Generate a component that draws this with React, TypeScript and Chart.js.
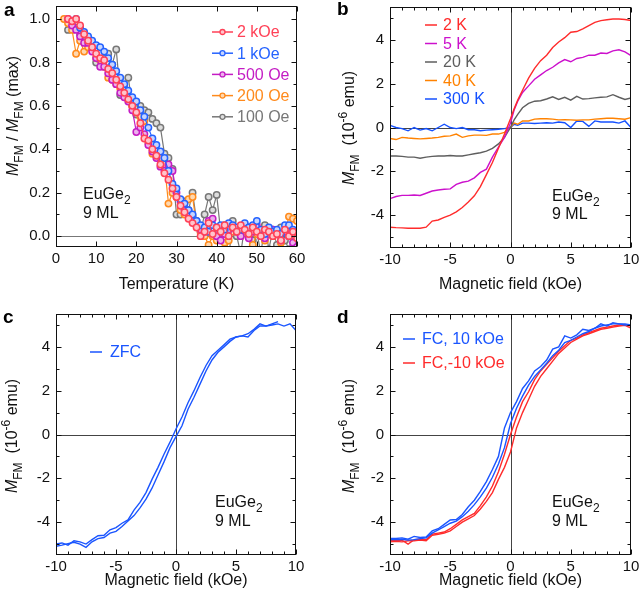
import React, { useEffect, useRef } from "react";
import { Chart, registerables } from "chart.js";
Chart.register(...registerables);

const FONT = "'Liberation Sans', Arial, Helvetica, sans-serif";

// ---------------- Panel a : M_FM / M_FM(max) vs temperature ----------------
const tempK = [2, 3, 4, 5, 6, 7, 8, 9, 10, 11, 12, 13, 14, 15, 16, 17, 18, 19, 20, 21, 22, 23, 24, 25, 26, 27, 28, 29, 30, 31, 32, 33, 34, 35, 36, 37, 38, 39, 40, 41, 42, 43, 44, 45, 46, 47, 48, 49, 50, 51, 52, 53, 54, 55, 56, 57, 58, 59, 60];
const m2kOe = [null, 1.0, 0.99, 1.0, 0.97, 0.93, 0.9, 0.87, 0.84, 0.82, 0.81, 0.77, 0.75, 0.72, 0.69, 0.66, 0.63, 0.6, 0.57, 0.52, 0.45, 0.44, 0.4, 0.37, 0.33, 0.29, 0.26, 0.22, 0.18, 0.14, 0.11, 0.08, 0.06, 0.04, 0.0, 0.02, 0.06, 0.01, 0.04, 0.02, 0.05, 0.0, 0.04, 0.02, 0.05, 0.03, 0.01, 0.04, 0.02, 0.0, 0.03, 0.02, 0.0, 0.01, -0.02, 0.03, 0.0, 0.02, -0.01];
const m1kOe = [null, null, null, 1.0, 0.96, 0.94, 0.92, 0.9, 0.88, 0.87, 0.85, 0.82, 0.79, 0.76, 0.73, 0.7, 0.67, 0.64, 0.62, 0.58, 0.55, 0.5, 0.45, 0.42, 0.39, 0.36, 0.3, 0.24, 0.22, 0.17, 0.15, 0.12, 0.1, 0.07, 0.05, 0.04, 0.02, 0.05, 0.04, 0.05, 0.03, 0.06, 0.05, 0.04, 0.03, 0.06, 0.04, 0.05, 0.07, 0.03, 0.01, 0.04, 0.02, 0.03, 0.01, 0.05, 0.05, 0.03, 0.02];
const m500Oe = [null, 1.0, 0.97, 0.95, 0.92, 0.89, 0.89, 0.85, 0.82, 0.78, 0.78, 0.75, 0.72, 0.7, 0.66, 0.64, 0.62, 0.58, 0.48, 0.5, 0.47, 0.42, 0.39, 0.36, 0.32, 0.3, 0.33, 0.3, 0.2, 0.16, 0.12, 0.1, 0.07, 0.05, 0.03, 0.02, 0.07, 0.08, 0.0, -0.02, 0.01, 0.03, 0.04, 0.02, 0.0, 0.03, -0.01, 0.02, 0.05, 0.0, -0.01, 0.02, 0.03, 0.01, -0.02, 0.02, 0.0, -0.03, -0.05];
const m200Oe = [1.0, 0.98, 0.95, 0.84, 0.9, 0.85, 0.87, 0.86, 0.82, 0.81, 0.78, 0.73, 0.72, 0.7, 0.68, 0.66, 0.64, 0.6, 0.57, 0.55, 0.53, 0.43, 0.38, 0.37, 0.36, 0.33, 0.15, 0.2, 0.18, 0.12, 0.1, 0.17, 0.18, 0.05, 0.02, 0.0, -0.04, 0.0, -0.02, 0.03, -0.03, -0.02, 0.02, 0.03, 0.0, 0.02, 0.04, -0.04, 0.01, 0.03, -0.02, 0.01, 0.0, 0.02, -0.03, 0.02, 0.09, 0.08, 0.07];
const m100Oe = [null, 0.95, 0.97, 0.96, 0.93, 0.9, 0.88, 0.87, 0.8, 0.81, 0.82, 0.84, 0.79, 0.86, 0.65, 0.68, 0.73, 0.6, 0.56, 0.6, 0.58, 0.57, 0.54, 0.52, 0.5, 0.38, 0.36, 0.31, 0.1, 0.1, 0.16, 0.12, 0.2, 0.07, 0.02, 0.1, 0.18, 0.12, 0.19, 0.02, 0.05, -0.1, 0.07, 0.0, -0.08, 0.05, 0.03, -0.02, 0.02, -0.08, 0.05, -0.06, 0.03, -0.04, 0.04, -0.02, -0.06, 0.0, -0.04];
const aSeriesLabels = ["2 kOe", "1 kOe", "500 Oe", "200 Oe", "100 Oe"];
const aXTicks = [0, 10, 20, 30, 40, 50, 60];
const aYTicks = [0.0, 0.2, 0.4, 0.6, 0.8, 1.0];

// ---------------- Panel b : M_FM vs field at several temperatures ----------------
const bField = [-10, -9.5, -9, -8.5, -8, -7.5, -7, -6.5, -6, -5.5, -5, -4.5, -4, -3.5, -3, -2.5, -2, -1.5, -1, -0.5, 0, 0.3, 0.6, 1, 1.5, 2, 2.5, 3, 3.5, 4, 4.5, 5, 5.5, 6, 6.5, 7, 7.5, 8, 8.5, 9, 9.5, 10];
const b2K = [-4.55, -4.57, -4.58, -4.6, -4.6, -4.6, -4.55, -4.27, -4.22, -4.1, -4.0, -3.85, -3.65, -3.4, -3.12, -2.7, -2.15, -1.6, -0.95, -0.3, 0.4, 0.85, 1.25, 1.7, 2.25, 2.7, 3.05, 3.3, 3.65, 3.9, 4.1, 4.35, 4.38, 4.5, 4.65, 4.8, 4.88, 4.92, 4.95, 4.95, 4.93, 4.88];
const b5K = [-3.25, -3.15, -3.1, -3.1, -3.08, -3.1, -3.0, -2.9, -2.85, -2.82, -2.8, -2.6, -2.5, -2.45, -2.3, -2.05, -1.9, -1.35, -0.9, -0.45, 0.2, 0.8, 1.2, 1.6, 1.9, 2.2, 2.4, 2.6, 2.75, 2.95, 3.1, 3.0, 3.15, 3.2, 3.3, 3.3, 3.4, 3.38, 3.5, 3.55, 3.45, 3.28];
const b20K = [-1.3, -1.3, -1.32, -1.35, -1.35, -1.4, -1.35, -1.32, -1.3, -1.3, -1.28, -1.3, -1.3, -1.25, -1.2, -1.15, -1.08, -0.95, -0.75, -0.45, 0.0, 0.35, 0.6, 0.9, 1.1, 1.2, 1.22, 1.3, 1.4, 1.28, 1.38, 1.25, 1.42, 1.3, 1.32, 1.35, 1.38, 1.4, 1.5, 1.38, 1.28, 1.35];
const b40K = [-0.5, -0.55, -0.45, -0.48, -0.5, -0.52, -0.5, -0.48, -0.45, -0.4, -0.38, -0.3, -0.45, -0.38, -0.35, -0.35, -0.36, -0.3, -0.3, -0.22, 0.0, 0.2, 0.15, 0.3, 0.3, 0.38, 0.4, 0.4, 0.38, 0.35, 0.36, 0.35, 0.33, 0.35, 0.35, 0.38, 0.4, 0.42, 0.42, 0.4, 0.38, 0.45];
const b300K = [0.1, 0.0, -0.05, -0.15, 0.0, -0.12, -0.05, -0.15, 0.0, 0.15, 0.0, -0.05, 0.0, -0.1, -0.1, -0.15, -0.12, -0.1, -0.08, -0.05, 0.0, 0.15, 0.1, 0.2, 0.2, 0.18, 0.2, 0.22, 0.2, 0.25, 0.22, 0.0, 0.3, 0.28, 0.05, 0.3, 0.25, 0.25, 0.25, 0.2, 0.3, 0.0];
const bSeriesLabels = ["2 K", "5 K", "20 K", "40 K", "300 K"];

// ---------------- Panels c, d : hysteresis loops ----------------
const fieldGrid = [-10, -9.5, -9, -8.5, -8, -7.5, -7, -6.5, -6, -5.5, -5, -4.5, -4, -3.5, -3, -2.5, -2, -1.5, -1, -0.5, 0, 0.5, 1, 1.5, 2, 2.5, 3, 3.5, 4, 4.5, 5, 5.5, 6, 6.5, 7, 7.5, 8, 8.5, 9, 9.5, 10];
const cFieldUpper = [-10, -9.5, -9, -8.5, -8, -7.5, -7, -6.5, -6, -5.5, -5, -4.5, -4, -3.5, -3, -2.5, -2, -1.5, -1, -0.5, 0, 0.5, 1, 1.5, 2, 2.5, 3, 3.5, 4, 4.5, 5, 5.5, 6, 6.5, 7, 7.5, 8, 8.5];
const cZfcUpper = [-5.0, -4.95, -5.05, -4.85, -4.9, -5.0, -4.8, -4.62, -4.6, -4.35, -4.25, -4.05, -3.9, -3.45, -3.1, -2.65, -2.05, -1.5, -0.9, -0.35, 0.25, 0.8, 1.45, 2.0, 2.6, 3.15, 3.6, 3.85, 4.1, 4.35, 4.45, 4.5, 4.6, 4.8, 5.05, 4.95, 5.05, 5.15];
const cZfcLower = [-5.1, -5.05, -4.98, -4.92, -5.0, -5.15, -4.9, -4.75, -4.7, -4.5, -4.42, -4.2, -3.95, -3.7, -3.35, -2.95, -2.45, -1.85, -1.25, -0.6, -0.1, 0.4, 1.15, 1.7, 2.3, 2.9, 3.4, 3.75, 4.0, 4.25, 4.45, 4.5, 4.45, 4.75, 4.95, 4.95, 5.0, 5.05, 4.95, 5.05, 4.75];
const dFcPosUpper = [-4.75, -4.75, -4.72, -4.78, -4.65, -4.7, -4.68, -4.4, -4.3, -4.1, -3.9, -3.88, -3.65, -3.3, -3.0, -2.6, -2.15, -1.6, -1.0, 0.3, 1.0, 1.5, 2.1, 2.45, 2.9, 3.1, 3.4, 3.9, 4.0, 4.5, 4.4, 4.55, 4.8, 4.75, 4.85, 5.05, 4.95, 5.1, 5.05, 5.05, 5.0];
const dFcPosLower = [-4.8, -4.8, -4.78, -4.82, -4.8, -4.75, -4.72, -4.5, -4.35, -4.2, -4.05, -3.95, -3.75, -3.5, -3.2, -2.85, -2.45, -1.95, -1.35, -0.6, 0.5, 1.2, 1.75, 2.25, 2.65, 2.95, 3.25, 3.6, 3.85, 4.2, 4.3, 4.45, 4.6, 4.7, 4.85, 4.95, 5.0, 5.05, 5.05, 5.0, 5.0];
const dFcNegUpper = [-4.85, -4.85, -4.82, -5.0, -4.8, -4.78, -4.8, -4.55, -4.5, -4.45, -4.3, -4.1, -3.9, -3.75, -3.6, -3.25, -2.85, -2.35, -1.7, -0.9, 0.0, 0.8, 1.5, 1.95, 2.5, 2.9, 3.2, 3.5, 3.8, 4.05, 4.3, 4.4, 4.55, 4.65, 4.75, 4.85, 4.9, 4.95, 5.0, 5.0, 4.95];
const dFcNegLower = [-4.9, -4.88, -4.9, -4.85, -4.85, -4.82, -4.85, -4.6, -4.55, -4.5, -4.4, -4.2, -4.0, -3.85, -3.7, -3.4, -3.05, -2.65, -2.05, -1.5, -0.8, 0.3, 1.0, 1.6, 2.2, 2.65, 3.0, 3.35, 3.7, 3.95, 4.2, 4.35, 4.5, 4.6, 4.7, 4.8, 4.85, 4.9, 4.95, 4.98, 4.85];

const fieldTicks = [-10, -5, 0, 5, 10];
const momentTicks = [-4, -2, 0, 2, 4];

// ---------------- helpers ----------------
type Part = { t: string; it?: boolean; sub?: boolean; sup?: boolean };

function zip(xs: number[], ys: (number | null)[]) {
  const n = Math.min(xs.length, ys.length);
  const out: { x: number; y: number | null }[] = [];
  for (let i = 0; i < n; i++) out.push({ x: xs[i], y: ys[i] });
  return out;
}

function partFont(p: Part, size: number) {
  const s = p.sub || p.sup ? Math.round(size * 0.72) : size;
  return `${p.it ? "italic " : ""}${s}px ${FONT}`;
}
function richWidth(ctx: CanvasRenderingContext2D, parts: Part[], size: number) {
  let w = 0;
  for (const p of parts) {
    ctx.font = partFont(p, size);
    w += ctx.measureText(p.t).width;
  }
  return w;
}
function drawRich(ctx: CanvasRenderingContext2D, parts: Part[], x: number, y: number, size: number, color: string, center: boolean) {
  let cx = center ? x - richWidth(ctx, parts, size) / 2 : x;
  ctx.fillStyle = color;
  ctx.textAlign = "left";
  ctx.textBaseline = "alphabetic";
  for (const p of parts) {
    ctx.font = partFont(p, size);
    const dy = p.sub ? size * 0.3 : p.sup ? -size * 0.42 : 0;
    ctx.fillText(p.t, cx, y + dy);
    cx += ctx.measureText(p.t).width;
  }
}
function stepValues(min: number, max: number, step: number) {
  const out: number[] = [];
  const a = Math.ceil(min / step - 1e-9);
  const b = Math.floor(max / step + 1e-9);
  for (let i = a; i <= b; i++) out.push(+(i * step).toFixed(6));
  return out;
}

interface LegendSpec {
  labels: string[];
  colors: string[];
  fills?: string[];
  lx0: number; lx1: number; tx: number; y0: number; dy: number;
}
interface Spec {
  letter: string; letterX: number; letterY: number;
  padTop: number; padRight: number; yAxisW: number; xAxisH: number;
  xMin: number; xMax: number; yMin: number; yMax: number;
  xTicks: number[]; yTicks: number[]; xMinor: number; yMinor: number;
  xFmt: (v: number) => string;
  yFmt: (v: number) => string;
  datasets: any[];
  zeroX: boolean; zeroColor: string;
  legend: LegendSpec;
  sampleX: number; sampleY1: number; sampleY2: number;
  yTitle: Part[]; yTitleX: number; yTitleY: number;
  xTitle: string; xTitleY: number;
}

function decoPlugin(spec: Spec) {
  return {
    id: "deco",
    beforeDatasetsDraw(chart: any) {
      const { ctx, chartArea: ca, scales } = chart;
      ctx.save();
      ctx.strokeStyle = spec.zeroColor;
      ctx.lineWidth = 1;
      ctx.beginPath();
      const py = Math.round(scales.y.getPixelForValue(0)) + 0.5;
      ctx.moveTo(ca.left, py);
      ctx.lineTo(ca.right, py);
      if (spec.zeroX) {
        const px = Math.round(scales.x.getPixelForValue(0)) + 0.5;
        ctx.moveTo(px, ca.top);
        ctx.lineTo(px, ca.bottom);
      }
      ctx.stroke();
      ctx.restore();
    },
    afterDraw(chart: any) {
      const { ctx, chartArea: ca, scales } = chart;
      const L = Math.round(ca.left) + 0.5, R = Math.round(ca.right) - 0.5;
      const T = Math.round(ca.top) + 0.5, B = Math.round(ca.bottom) - 0.5;
      ctx.save();
      ctx.strokeStyle = "#111";
      ctx.lineWidth = 1;
      ctx.strokeRect(L, T, R - L, B - T);
      ctx.beginPath();
      for (const v of stepValues(spec.xMin, spec.xMax, spec.xMinor)) {
        const major = spec.xTicks.some((t) => Math.abs(t - v) < 1e-6);
        const len = major ? 5 : 3;
        const px = Math.round(scales.x.getPixelForValue(v)) + 0.5;
        ctx.moveTo(px, B); ctx.lineTo(px, B - len);
        ctx.moveTo(px, T); ctx.lineTo(px, T + len);
      }
      for (const v of stepValues(spec.yMin, spec.yMax, spec.yMinor)) {
        const major = spec.yTicks.some((t) => Math.abs(t - v) < 1e-6);
        const len = major ? 5 : 3;
        const py = Math.round(scales.y.getPixelForValue(v)) + 0.5;
        ctx.moveTo(L, py); ctx.lineTo(L + len, py);
        ctx.moveTo(R, py); ctx.lineTo(R - len, py);
      }
      ctx.stroke();

      const lg = spec.legend;
      lg.labels.forEach((lab, i) => {
        const y = lg.y0 + i * lg.dy;
        ctx.strokeStyle = lg.colors[i];
        ctx.lineWidth = 1.5;
        ctx.beginPath();
        ctx.moveTo(lg.lx0, y);
        ctx.lineTo(lg.lx1, y);
        ctx.stroke();
        if (lg.fills) {
          ctx.beginPath();
          ctx.arc((lg.lx0 + lg.lx1) / 2, y, 2.5, 0, Math.PI * 2);
          ctx.fillStyle = lg.fills[i];
          ctx.fill();
          ctx.lineWidth = 1.3;
          ctx.stroke();
        }
        ctx.fillStyle = lg.colors[i];
        ctx.font = `16px ${FONT}`;
        ctx.textAlign = "left";
        ctx.textBaseline = "middle";
        ctx.fillText(lab, lg.tx, y + 1);
      });

      drawRich(ctx, [{ t: "EuGe" }, { t: "2", sub: true }], spec.sampleX, spec.sampleY1, 16, "#111", false);
      drawRich(ctx, [{ t: "9 ML" }], spec.sampleX, spec.sampleY2, 16, "#111", false);

      drawRich(ctx, [{ t: spec.xTitle }], (ca.left + ca.right) / 2, spec.xTitleY, 16, "#111", true);

      ctx.save();
      ctx.translate(spec.yTitleX, spec.yTitleY);
      ctx.rotate(-Math.PI / 2);
      drawRich(ctx, spec.yTitle, 0, 0, 16, "#111", true);
      ctx.restore();

      ctx.fillStyle = "#000";
      ctx.font = `bold 19px ${FONT}`;
      ctx.textAlign = "left";
      ctx.textBaseline = "alphabetic";
      ctx.fillText(spec.letter, spec.letterX, spec.letterY);
      ctx.restore();
    },
  };
}

function buildConfig(spec: Spec): any {
  const tickFont = { family: FONT, size: 15 };
  return {
    type: "line",
    data: { datasets: spec.datasets },
    options: {
      animation: false,
      responsive: false,
      devicePixelRatio: 1,
      layout: { padding: { left: 0, right: spec.padRight, top: spec.padTop, bottom: 0 } },
      plugins: { legend: { display: false }, tooltip: { enabled: false } },
      elements: { line: { tension: 0 } },
      scales: {
        x: {
          type: "linear",
          min: spec.xMin,
          max: spec.xMax,
          grid: { display: false, drawTicks: false },
          border: { display: false },
          ticks: { font: tickFont, color: "#111", padding: 3, autoSkip: false, maxRotation: 0, includeBounds: false, callback: (v: number) => spec.xFmt(v) },
          afterBuildTicks: (s: any) => { s.ticks = spec.xTicks.map((v) => ({ value: v })); },
          afterFit: (s: any) => { s.height = spec.xAxisH; s.paddingLeft = 0; s.paddingRight = 0; },
        },
        y: {
          type: "linear",
          min: spec.yMin,
          max: spec.yMax,
          grid: { display: false, drawTicks: false },
          border: { display: false },
          ticks: { font: tickFont, color: "#111", padding: 6, autoSkip: false, includeBounds: false, callback: (v: number) => spec.yFmt(v) },
          afterBuildTicks: (s: any) => { s.ticks = spec.yTicks.map((v) => ({ value: v })); },
          afterFit: (s: any) => { s.width = spec.yAxisW; s.paddingTop = 0; s.paddingBottom = 0; },
        },
      },
    },
    plugins: [decoPlugin(spec)],
  };
}

function lineDs(label: string, data: any[], color: string, width = 1.4) {
  return { label, data, borderColor: color, borderWidth: width, pointRadius: 0, fill: false, clip: 0, spanGaps: false };
}
function markerDs(label: string, data: any[], color: string, fillc: string) {
  return {
    label, data, borderColor: color, borderWidth: 1.2, fill: false, clip: 0, spanGaps: false,
    pointRadius: 3.2, pointBorderWidth: 1.5, pointBorderColor: color, pointBackgroundColor: fillc,
  };
}

const intFmt = (v: number) => String(v);
const mfmTitle: Part[] = [{ t: "M", it: true }, { t: "FM", sub: true }, { t: "  (10" }, { t: "-6", sup: true }, { t: " emu)" }];

const aColors = ["#ff4157", "#2563ff", "#c41cc4", "#ff8a1c", "#777777"];
const aFills = ["#ffc4cb", "#c6d5ff", "#ecb0ec", "#ffd8b0", "#dddddd"];
const bColors = ["#ff2b2b", "#cc11cc", "#5e5e5e", "#ff8200", "#1450ff"];
const BLUE = "#1a55ff";
const RED = "#ff2b2b";

const specA: Spec = {
  letter: "a", letterX: 4, letterY: 16,
  padTop: 6, padRight: 23, yAxisW: 56, xAxisH: 53,
  xMin: 0, xMax: 60, yMin: -0.05, yMax: 1.06,
  xTicks: aXTicks, yTicks: aYTicks, xMinor: 10, yMinor: 0.1,
  xFmt: intFmt,
  yFmt: (v) => Number(v).toFixed(1),
  datasets: [
    markerDs(aSeriesLabels[0], zip(tempK, m2kOe), aColors[0], aFills[0]),
    markerDs(aSeriesLabels[1], zip(tempK, m1kOe), aColors[1], aFills[1]),
    markerDs(aSeriesLabels[2], zip(tempK, m500Oe), aColors[2], aFills[2]),
    markerDs(aSeriesLabels[3], zip(tempK, m200Oe), aColors[3], aFills[3]),
    markerDs(aSeriesLabels[4], zip(tempK, m100Oe), aColors[4], aFills[4]),
  ],
  zeroX: false, zeroColor: "#777",
  legend: { labels: aSeriesLabels, colors: aColors, fills: aFills, lx0: 212, lx1: 233, tx: 237, y0: 32, dy: 21.2 },
  sampleX: 83, sampleY1: 199, sampleY2: 218,
  yTitle: [{ t: "M", it: true }, { t: "FM", sub: true }, { t: " / " }, { t: "M", it: true }, { t: "FM", sub: true }, { t: " (max)" }],
  yTitleX: 18, yTitleY: 116,
  xTitle: "Temperature (K)", xTitleY: 289,
};

const specB: Spec = {
  letter: "b", letterX: 17, letterY: 15,
  padTop: 7, padRight: 9, yAxisW: 70, xAxisH: 52,
  xMin: -10, xMax: 10, yMin: -5.5, yMax: 5.5,
  xTicks: fieldTicks, yTicks: momentTicks, xMinor: 1, yMinor: 1,
  xFmt: intFmt, yFmt: intFmt,
  datasets: [
    lineDs(bSeriesLabels[0], zip(bField, b2K), bColors[0]),
    lineDs(bSeriesLabels[1], zip(bField, b5K), bColors[1]),
    lineDs(bSeriesLabels[2], zip(bField, b20K), bColors[2]),
    lineDs(bSeriesLabels[3], zip(bField, b40K), bColors[3]),
    lineDs(bSeriesLabels[4], zip(bField, b300K), bColors[4]),
  ],
  zeroX: true, zeroColor: "#444",
  legend: { labels: bSeriesLabels, colors: bColors, lx0: 105, lx1: 117, tx: 123, y0: 25, dy: 18.5 },
  sampleX: 232, sampleY1: 201, sampleY2: 219,
  yTitle: mfmTitle, yTitleX: 34, yTitleY: 128,
  xTitle: "Magnetic field (kOe)", xTitleY: 289,
};

const specC: Spec = {
  letter: "c", letterX: 3, letterY: 23,
  padTop: 14, padRight: 24, yAxisW: 56, xAxisH: 45,
  xMin: -10, xMax: 10, yMin: -5.5, yMax: 5.5,
  xTicks: fieldTicks, yTicks: momentTicks, xMinor: 1, yMinor: 1,
  xFmt: intFmt, yFmt: intFmt,
  datasets: [
    lineDs("ZFC", zip(cFieldUpper, cZfcUpper), BLUE),
    lineDs("ZFC return", zip(fieldGrid, cZfcLower), BLUE),
  ],
  zeroX: true, zeroColor: "#444",
  legend: { labels: ["ZFC"], colors: [BLUE], lx0: 90, lx1: 102, tx: 110, y0: 52, dy: 20 },
  sampleX: 215, sampleY1: 207, sampleY2: 226,
  yTitle: mfmTitle, yTitleX: 17, yTitleY: 136,
  xTitle: "Magnetic field (kOe)", xTitleY: 285,
};

const specD: Spec = {
  letter: "d", letterX: 17, letterY: 23,
  padTop: 14, padRight: 9, yAxisW: 70, xAxisH: 45,
  xMin: -10, xMax: 10, yMin: -5.5, yMax: 5.5,
  xTicks: fieldTicks, yTicks: momentTicks, xMinor: 1, yMinor: 1,
  xFmt: intFmt, yFmt: intFmt,
  datasets: [
    lineDs("FC, 10 kOe", zip(fieldGrid, dFcPosUpper), BLUE),
    lineDs("FC, 10 kOe return", zip(fieldGrid, dFcPosLower), BLUE),
    lineDs("FC,-10 kOe", zip(fieldGrid, dFcNegUpper), RED),
    lineDs("FC,-10 kOe return", zip(fieldGrid, dFcNegLower), RED),
  ],
  zeroX: true, zeroColor: "#444",
  legend: { labels: ["FC, 10 kOe", "FC,-10 kOe"], colors: [BLUE, RED], lx0: 83, lx1: 95, tx: 102, y0: 39, dy: 24 },
  sampleX: 232, sampleY1: 207, sampleY2: 226,
  yTitle: mfmTitle, yTitleX: 34, yTitleY: 136,
  xTitle: "Magnetic field (kOe)", xTitleY: 285,
};

function Panel({ spec, left, top }: { spec: Spec; left: number; top: number }) {
  const ref = useRef<HTMLCanvasElement>(null);
  useEffect(() => {
    if (!ref.current) return;
    const chart = new Chart(ref.current, buildConfig(spec));
    return () => chart.destroy();
  }, [spec]);
  return (
    <canvas
      ref={ref}
      width={320}
      height={300}
      style={{ position: "absolute", left, top, width: 320, height: 300 }}
    />
  );
}

export default function App() {
  return (
    <div style={{ position: "fixed", left: 0, top: 0, width: 640, height: 600, background: "#fff" }}>
      <Panel spec={specA} left={0} top={0} />
      <Panel spec={specB} left={320} top={0} />
      <Panel spec={specC} left={0} top={300} />
      <Panel spec={specD} left={320} top={300} />
    </div>
  );
}
